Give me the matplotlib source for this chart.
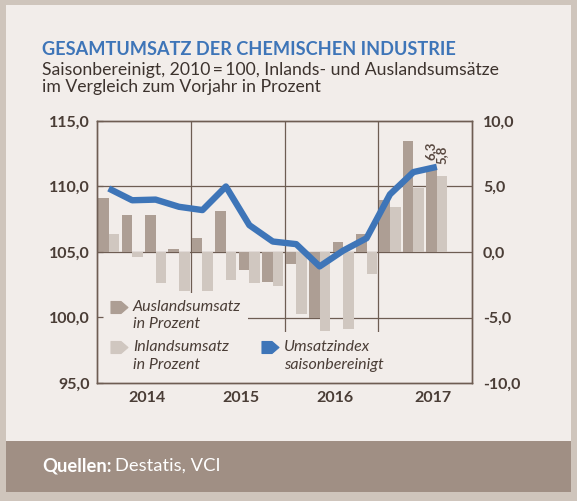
import matplotlib
matplotlib.use("Agg")
import matplotlib.pyplot as plt
from matplotlib.patches import Rectangle, Polygon

plt.rcParams['font.family'] = ['Lato', 'DejaVu Sans']

# Daten (Quartale 2014 Q1 .. 2017 Q3)
quarters = list(range(15))
ausland = [4.1, 2.8, 2.85, 0.2, 1.1, 3.1, -1.35, -2.3, -0.9, -5.0, 0.8, 1.4, 4.0, 8.5, 6.3]
inland = [1.4, -0.35, -2.35, -3.0, -3.0, -2.1, -2.4, -2.6, -4.7, -6.05, -5.9, -1.7, 3.4, 4.9, 5.8]
umsatzindex = [109.85, 108.95, 109.0, 108.45, 108.2, 110.0, 107.05, 105.8, 105.6,
               103.9, 105.1, 106.05, 109.4, 111.1, 111.5]
years = ["2014", "2015", "2016", "2017"]
year_pos = [1.65, 5.63, 9.65, 13.85]
year_bounds = [3.5, 7.5, 11.5]
left_ticks = [95, 100, 105, 110, 115]
right_ticks = [-10, -5, 0, 5, 10]
last_labels = ["6,3", "5,8"]

border = '#cfc5bc'
panel = '#f2edea'
footer = '#a08f84'
dark = '#ad9e94'
light = '#d0c7c0'
blue = '#3e75b8'
axcol = '#6e5d53'
txtcol = '#4a3d36'

W, H = 577, 501
fig = plt.figure(figsize=(W / 100, H / 100), dpi=100, facecolor=border)


def px(x):
    return x / W


def py(y):
    return 1 - y / H


# Hintergrund
fig.patches.append(Rectangle((px(6), py(492)), px(565), 487 / H, transform=fig.transFigure,
                             facecolor=panel, edgecolor='none', zorder=-2))
fig.patches.append(Rectangle((px(6), py(492)), px(565), 51 / H, transform=fig.transFigure,
                             facecolor=footer, edgecolor='none', zorder=-1))

fig.text(px(42), py(55), "GESAMTUMSATZ DER CHEMISCHEN INDUSTRIE", color=blue,
         fontsize=13.1, fontweight='bold', va='baseline')
fig.text(px(42), py(75), "Saisonbereinigt, 2010\u2009=\u2009100, Inlands- und Auslandsumsätze",
         color='#3d332e', fontsize=12.7, va='baseline')
fig.text(px(42), py(92), "im Vergleich zum Vorjahr in Prozent",
         color='#3d332e', fontsize=12.7, va='baseline')

q = fig.text(px(42), py(466), "Quellen:", color='white', fontsize=13.2, fontweight='bold',
             va='center')
fig.canvas.draw()
bb = q.get_window_extent()
fig.text(bb.x1 / W + px(3), py(466), "Destatis, VCI", color='white', fontsize=13.2, va='center')

# Achsen
ax2 = fig.add_axes([px(97), py(383), px(375), 262 / H])
ax = ax2.twinx()
ax.set_zorder(ax2.get_zorder() + 1)
ax.patch.set_visible(False)
ax2.set_facecolor(panel)

ax2.set_xlim(-0.5, 15.5)
ax2.set_ylim(-10, 10)
ax.set_ylim(95, 115)

# Gitter
for v in [-5, 0, 5]:
    ax2.axhline(v, color=axcol, lw=0.9, zorder=1)
for b in year_bounds:
    ax2.axvline(b, color=axcol, lw=0.9, zorder=1)

# Legendenfläche verdeckt das Gitter
ax2.add_patch(Rectangle((-0.5, -10), 6.44, 6.9, facecolor=panel, edgecolor='none', zorder=1.5))
ax2.add_patch(Rectangle((-0.5, -10), 12.6, 3.92, facecolor=panel, edgecolor='none', zorder=1.5))

w = 0.45
ax2.bar([x - w / 2 for x in quarters], ausland, width=w, color=dark, zorder=2)
ax2.bar([x + w / 2 for x in quarters], inland, width=w, color=light, zorder=2)

ax.plot(quarters, umsatzindex, color=blue, lw=4.6, solid_capstyle='butt', zorder=3)

ax.text(quarters[-1] - w / 2 - 0.03, 112.05, last_labels[0], rotation=90, ha='center', va='bottom',
        fontsize=9.5, fontweight='bold', color='#5a4a42', zorder=4)
ax.text(quarters[-1] + w / 2 - 0.03, 111.7, last_labels[1], rotation=90, ha='center', va='bottom',
        fontsize=9.5, fontweight='bold', color='#5a4a42', zorder=4)

for a in (ax, ax2):
    for s in a.spines.values():
        s.set_color(axcol)
        s.set_linewidth(1.0)

ax.set_yticks(left_ticks)
ax.set_yticklabels([f"{v:.1f}".replace('.', ',') for v in left_ticks])
ax.yaxis.tick_left()
ax.tick_params(axis='y', direction='in', length=4.5, width=0.9, color=axcol, pad=5,
               labelsize=11.5, labelcolor=txtcol)
for t in ax.get_yticklabels():
    t.set_fontweight('bold')

ax2.set_yticks(right_ticks)
ax2.set_yticklabels([f"{v:.1f}".replace('.', ',') for v in right_ticks])
ax2.yaxis.tick_right()
ax2.tick_params(axis='y', length=0, pad=8, labelsize=11.5, labelcolor=txtcol)
for t in ax2.get_yticklabels():
    t.set_fontweight('bold')

ax2.set_xticks(year_bounds)
ax2.set_xticklabels([])
ax2.tick_params(axis='x', which='major', direction='in', length=3.5, width=0.9, color=axcol)
ax2.set_xticks(year_pos, minor=True)
ax2.set_xticklabels(years, minor=True)
ax2.tick_params(axis='x', which='minor', length=0, pad=6, labelsize=11.5, labelcolor=txtcol)
for t in ax2.get_xticklabels(minor=True):
    t.set_fontweight('bold')
ax.set_xticks([])


# Legende von Hand
def marker(x, y, color):
    pts = [(x, y - 6), (x + 10, y - 6), (x + 17, y), (x + 10, y + 6), (x, y + 6)]
    fig.patches.append(Polygon([(px(a), py(b)) for a, b in pts], closed=True,
                               transform=fig.transFigure, facecolor=color, edgecolor=color,
                               lw=0.8, joinstyle='round', zorder=5))


marker(111, 307.5, dark)
marker(111, 347.5, light)
marker(262, 347.5, blue)
leg = dict(fontsize=11.5, style='italic', color=txtcol, va='center', zorder=6)
fig.text(px(133), py(306.7), "Auslandsumsatz", **leg)
fig.text(px(133), py(324.3), "in Prozent", **leg)
fig.text(px(133), py(347.3), "Inlandsumsatz", **leg)
fig.text(px(133), py(365), "in Prozent", **leg)
fig.text(px(284), py(347.3), "Umsatzindex", **leg)
fig.text(px(284), py(365), "saisonbereinigt", **leg)

fig.savefig("out.png", dpi=100, facecolor=border)
